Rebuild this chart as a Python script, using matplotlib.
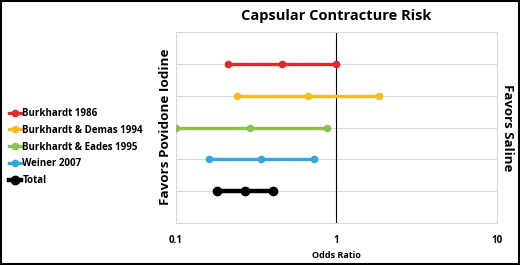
import matplotlib
matplotlib.use("Agg")
import matplotlib.pyplot as plt
from matplotlib.ticker import FixedLocator, NullLocator

plt.rcParams['font.family'] = ['Open Sans', 'DejaVu Sans']

studies = ['Burkhardt 1986', 'Burkhardt & Demas 1994', 'Burkhardt & Eades 1995',
           'Weiner 2007', 'Total']
lower = [0.21, 0.24, 0.10, 0.16, 0.18]
odds = [0.46, 0.67, 0.29, 0.34, 0.27]
upper = [1.00, 1.85, 0.87, 0.73, 0.40]
colors = ['#e02a2a', '#f5bd1f', '#8cc152', '#33a8dc', '#000000']
rows = [5, 4, 3, 2, 1]

fig = plt.figure(figsize=(5.2, 2.65), dpi=100)
ax = fig.add_axes([0.3385, 0.1585, 0.6165, 0.7205])

for i in range(len(studies)):
    big = studies[i] == 'Total'
    ax.plot([lower[i], odds[i], upper[i]], [rows[i]] * 3, color=colors[i],
            lw=3.2 if big else 2.4, marker='o', ms=6 if big else 4.5,
            label=studies[i], zorder=3)

ax.axvline(1, color='black', lw=0.8, zorder=2)
ax.set_xscale('log')
ax.set_xlim(0.1, 10)
ax.set_ylim(0, 6)
ax.xaxis.set_major_locator(FixedLocator([0.1, 1, 10]))
ax.xaxis.set_minor_locator(NullLocator())
ax.set_xticklabels(['0.1', '1', '10'], fontsize=7, fontweight='bold')
ax.yaxis.set_major_locator(FixedLocator([1, 2, 3, 4, 5, 6]))
ax.set_yticklabels([])
ax.tick_params(length=0, pad=9)
ax.grid(axis='y', color='#d9d9d9', lw=0.8)
for s in ax.spines.values():
    s.set_color('#d9d9d9')
    s.set_linewidth(0.8)

ax.set_xlabel('Odds Ratio', fontsize=6.5, fontweight='bold', labelpad=3)
ax.set_title('Capsular Contracture Risk', fontsize=10.5, fontweight='bold', pad=9)

fig.text(0.318, 0.52, 'Favors Povidone Iodine', rotation=90, ha='center', va='center',
         fontsize=9.7, fontweight='bold')
fig.text(0.975, 0.52, 'Favors Saline', rotation=270, ha='center', va='center',
         fontsize=9.5, fontweight='bold')

fig.legend(loc='center left', bbox_to_anchor=(0.0, 0.445), frameon=False,
           prop={'size': 7, 'weight': 'bold'}, handlelength=1.3, handletextpad=0.1,
           labelspacing=0.6, borderaxespad=0.5)

fig.patches.append(plt.Rectangle((0.002, 0.004), 0.996, 0.992, transform=fig.transFigure,
                                 fill=False, edgecolor='black', lw=1.5))

fig.savefig('out.png', dpi=100)
